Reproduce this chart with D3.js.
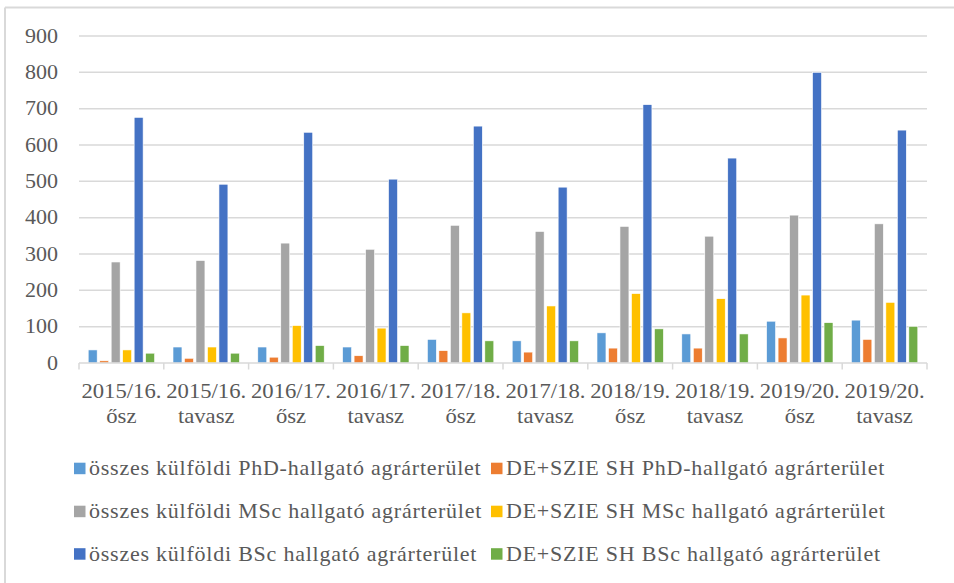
<!DOCTYPE html>
<html>
<head>
<meta charset="utf-8">
<script src="https://cdn.jsdelivr.net/npm/d3@7"></script>
<style>
  html, body { margin: 0; padding: 0; background: #fff; }
  svg text { font-family: "Liberation Serif", "Times New Roman", serif; fill: #595959; }
</style>
</head>
<body>
<svg id="chart" width="954" height="583"></svg>
<script>
const categories = [
  ["2015/16.", "ősz"], ["2015/16.", "tavasz"],
  ["2016/17.", "ősz"], ["2016/17.", "tavasz"],
  ["2017/18.", "ősz"], ["2017/18.", "tavasz"],
  ["2018/19.", "ősz"], ["2018/19.", "tavasz"],
  ["2019/20.", "ősz"], ["2019/20.", "tavasz"]
];
const seriesNames = [
  "összes külföldi PhD-hallgató agrárterület",
  "DE+SZIE SH PhD-hallgató agrárterület",
  "összes külföldi MSc hallgató agrárterület",
  "DE+SZIE SH MSc hallgató agrárterület",
  "összes külföldi BSc hallgató agrárterület",
  "DE+SZIE SH BSc hallgató agrárterület"
];
const phdAll   = [36, 44, 44, 44, 65, 61, 83, 80, 115, 118];
const phdDe    = [6, 13, 16, 20, 34, 30, 41, 41, 69, 65];
const mscAll   = [278, 282, 330, 313, 379, 362, 376, 349, 407, 383];
const mscDe    = [36, 44, 103, 96, 138, 157, 191, 177, 187, 167];
const bscAll   = [676, 492, 635, 506, 652, 484, 711, 564, 800, 641];
const bscDe    = [27, 27, 48, 48, 61, 61, 94, 80, 111, 101];
const yTicks   = [0, 100, 200, 300, 400, 500, 600, 700, 800, 900];
const colors   = ["#5B9BD5", "#ED7D31", "#A5A5A5", "#FFC000", "#4472C4", "#70AD47"];

const seriesValues = [phdAll, phdDe, mscAll, mscDe, bscAll, bscDe];
const SX = 1.1; // horizontal stretch of the text

const svg = d3.select("#chart");

// frame (top and left edges visible)
svg.append("line").attr("x1", 5).attr("x2", 954).attr("y1", 7.5).attr("y2", 7.5)
  .attr("stroke", "#d9d9d9").attr("stroke-width", 2);
svg.append("line").attr("x1", 5).attr("x2", 5).attr("y1", 7.5).attr("y2", 583)
  .attr("stroke", "#d9d9d9").attr("stroke-width", 2);

const plotLeft = 79, plotRight = 927, plotTop = 36, plotBottom = 363;

const y = d3.scaleLinear().domain([0, 900]).range([plotBottom, plotTop]);
const x0 = d3.scaleBand().domain(d3.range(categories.length)).range([plotLeft, plotRight])
  .paddingInner(0.217).paddingOuter(0.1085);
const x1 = d3.scaleBand().domain(d3.range(seriesNames.length)).range([0, x0.bandwidth()])
  .paddingInner(0.22).paddingOuter(0);

// gridlines
svg.append("g").selectAll("line").data(yTicks.filter(d => d > 0)).join("line")
  .attr("x1", plotLeft).attr("x2", plotRight)
  .attr("y1", d => y(d)).attr("y2", d => y(d))
  .attr("stroke", "#d9d9d9").attr("stroke-width", 1.5);

// y labels
svg.append("g").selectAll("text").data(yTicks).join("text")
  .attr("transform", d => `translate(58,${y(d)}) scale(${SX},1)`)
  .attr("text-anchor", "end").attr("dy", "0.34em")
  .style("font-size", "20px")
  .text(d => d);

// bars
const groups = svg.append("g").selectAll("g").data(categories).join("g")
  .attr("transform", (d, i) => `translate(${x0(i)},0)`);
groups.selectAll("rect").data((d, i) => seriesValues.map((s, j) => ({j, v: s[i]}))).join("rect")
  .attr("x", d => x1(d.j))
  .attr("width", x1.bandwidth())
  .attr("y", d => y(d.v))
  .attr("height", d => y(0) - y(d.v))
  .attr("fill", d => colors[d.j])
  .attr("stroke", "#fff").attr("stroke-width", 0.6);

// x axis
const xAxis = svg.append("g");
xAxis.append("line").attr("x1", plotLeft).attr("x2", plotRight).attr("y1", plotBottom).attr("y2", plotBottom)
  .attr("stroke", "#d9d9d9").attr("stroke-width", 1.5);
const bounds = d3.range(categories.length + 1).map(i => plotLeft + i * x0.step());
xAxis.selectAll("line.tick").data(bounds).join("line").attr("class", "tick")
  .attr("x1", d => d).attr("x2", d => d).attr("y1", plotBottom).attr("y2", plotBottom + 6.5)
  .attr("stroke", "#d9d9d9").attr("stroke-width", 1.5);

const catLabels = svg.append("g").selectAll("g").data(categories).join("g")
  .attr("transform", (d, i) => `translate(${x0(i) + x0.bandwidth() / 2},0)`);
catLabels.each(function(d) {
  const g = d3.select(this);
  d.forEach((line, k) => {
    g.append("text")
      .attr("transform", `translate(0,${398 + k * 25}) scale(1.08,1)`)
      .attr("text-anchor", "middle")
      .style("font-size", "21px")
      .text(line);
  });
});

// legend
const legendCols = [74, 491];
const legendRows = [468.5, 511.5, 554];
const legend = svg.append("g").selectAll("g").data(seriesNames).join("g")
  .attr("transform", (d, i) => `translate(${legendCols[i % 2]},${legendRows[Math.floor(i / 2)]})`);
legend.append("rect").attr("x", 0).attr("y", -5.8).attr("width", 11.5).attr("height", 11.5)
  .attr("fill", (d, i) => colors[i]);
legend.append("text")
  .attr("transform", `translate(15,0) scale(${SX},1)`)
  .attr("dy", "0.34em")
  .style("font-size", "20px")
  .style("letter-spacing", "0.7px")
  .text(d => d);
</script>
</body>
</html>
